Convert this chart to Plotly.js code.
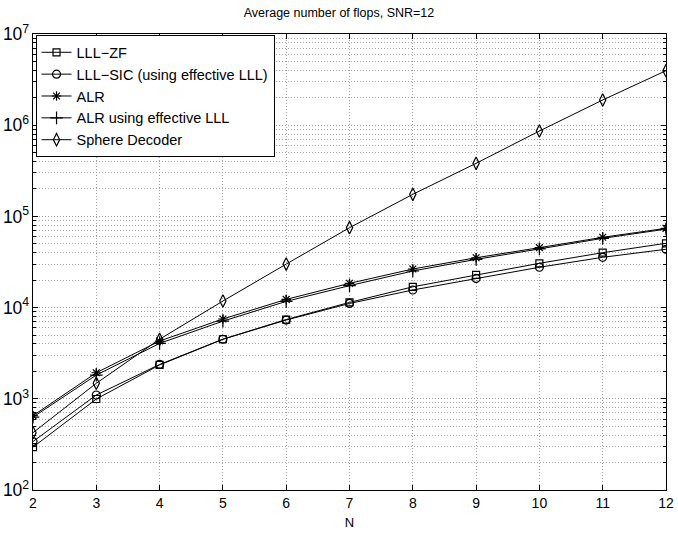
<!DOCTYPE html>
<html>
<head>
<meta charset="utf-8">
<script src="https://cdn.plot.ly/plotly-3.0.1.min.js"></script>
<style>html,body{margin:0;padding:0;background:#fff;}#chart{width:678px;height:535px;}</style>
</head>
<body>
<div id="chart"></div>
<script>
var N = [2, 3, 4, 5, 6, 7, 8, 9, 10, 11, 12];
var lllZF = [295, 995, 2350, 4500, 7400, 11400, 16900, 22800, 30600, 40000, 50700];
var lllSIC = [340, 1100, 2380, 4500, 7300, 11100, 15600, 20900, 27700, 35600, 43600];
var alr = [653, 1930, 4300, 7500, 12300, 18450, 26500, 35200, 45400, 59000, 74000];
var alrEff = [630, 1820, 4050, 7100, 11700, 17400, 25200, 33800, 44000, 57500, 72500];
var sphere = [425, 1480, 4500, 11800, 30000, 75200, 174600, 382000, 863000, 1890000, 3960000];
var names = ['LLL\u2212ZF', 'LLL\u2212SIC (using effective LLL)', 'ALR', 'ALR using effective LLL', 'Sphere Decoder'];
var symbols = ['square-open', 'circle-open', 'asterisk-open', 'cross-thin-open', 'diamond-tall-open'];
var sizes = [7, 8, 8, 9, 9];
var series = [lllZF, lllSIC, alr, alrEff, sphere];

var traces = series.map(function (s, i) {
  return {
    x: N, y: s, name: names[i], type: 'scatter', mode: 'lines+markers',
    line: {color: '#000', width: 1},
    marker: {symbol: symbols[i], size: sizes[i], color: '#000', line: {color: '#000', width: 1.2}}
  };
});

var fam = 'Liberation Sans, Arial, sans-serif';
var gridDash = '1px,2px';
var layout = {
  width: 678, height: 535,
  margin: {l: 33, r: 12, t: 34, b: 45},
  paper_bgcolor: '#fff', plot_bgcolor: '#fff',
  font: {family: fam, size: 14, color: '#000'},
  title: {text: 'Average number of flops, SNR=12', font: {size: 12.5, family: fam, color: '#000'}, x: 0.5, xanchor: 'center', y: 0.977, yanchor: 'middle'},
  showlegend: true,
  legend: {x: 0.004, y: 0.997, xanchor: 'left', yanchor: 'top', bgcolor: '#fff', bordercolor: '#000', borderwidth: 1, font: {size: 14.5, family: fam, color: '#000'}, tracegroupgap: 0, itemwidth: 30},
  xaxis: {
    range: [2, 12], dtick: 1, tick0: 2,
    title: {text: 'N', font: {size: 13, family: fam}, standoff: 8},
    showline: true, linecolor: '#000', linewidth: 1, mirror: 'allticks',
    ticks: 'inside', ticklen: 5, tickcolor: '#000',
    showgrid: true, gridcolor: '#a0a0a0', griddash: gridDash, gridwidth: 1,
    zeroline: false, tickfont: {size: 14}
  },
  yaxis: {
    type: 'log', range: [2, 7], dtick: 1, exponentformat: 'power',
    showline: true, linecolor: '#000', linewidth: 1, mirror: 'allticks',
    ticks: 'inside', ticklen: 5, tickcolor: '#000',
    showgrid: true, gridcolor: '#a0a0a0', griddash: gridDash, gridwidth: 1,
    zeroline: false, tickfont: {size: 14},
    minor: {dtick: 'D1', ticks: 'inside', ticklen: 3, tickcolor: '#000', showgrid: true, gridcolor: '#a8a8a8', griddash: gridDash, gridwidth: 1}
  }
};
Plotly.newPlot('chart', traces, layout, {displayModeBar: false, staticPlot: true});
</script>
</body>
</html>
